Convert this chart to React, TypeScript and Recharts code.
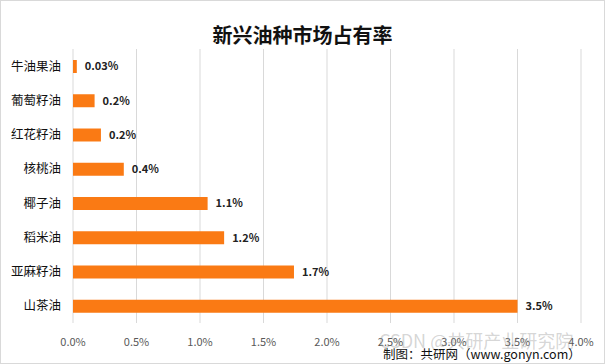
import { BarChart, Bar, XAxis, YAxis, CartesianGrid, LabelList, Cell } from 'recharts';

const categories = ['牛油果油', '葡萄籽油', '红花籽油', '核桃油', '椰子油', '稻米油', '亚麻籽油', '山茶油'];
const shares = [0.03, 0.17, 0.22, 0.4, 1.06, 1.19, 1.74, 3.5];
const labels = ['0.03%', '0.2%', '0.2%', '0.4%', '1.1%', '1.2%', '1.7%', '3.5%'];
const xTicks = [0, 0.5, 1, 1.5, 2, 2.5, 3, 3.5, 4];

const FONT = '"Noto Sans CJK SC", "Noto Sans", sans-serif';
const ORANGE = '#FA7A14';

const rows = categories.map((name, i) => ({ name, v: shares[i], label: labels[i] }));

export default function App() {
  return (
    <div style={{ position: 'absolute', left: 0, top: 0, width: 605, height: 364, background: '#fff', fontFamily: FONT, boxSizing: 'border-box', border: '1px solid #d9d9d9' }}>
      <div style={{ position: 'absolute', left: 0, width: 603, top: 20, textAlign: 'center', fontSize: 20, fontWeight: 700, color: '#111', lineHeight: '28px' }}>
        新兴油种市场占有率
      </div>
      <div style={{ position: 'absolute', left: -1, top: -1 }}>
        <BarChart width={605} height={364} data={rows} layout="vertical" margin={{ top: 49, right: 24, bottom: 0, left: 0 }}>
          <CartesianGrid horizontal={false} stroke="#d9d9d9" />
          <XAxis type="number" domain={[0, 4]} ticks={xTicks} height={41} axisLine={false} tickLine={false} tickMargin={9}
            tick={{ fontSize: 11, fill: '#595959', fontFamily: FONT }} tickFormatter={(v: number) => v.toFixed(1) + '%'} />
          <YAxis type="category" dataKey="name" width={73} axisLine={false} tickLine={false} tickMargin={6}
            tick={{ fontSize: 12.5, fill: '#111', fontFamily: FONT }} />
          <Bar dataKey="v" barSize={13} isAnimationActive={false}>
            {rows.map((r, i) => <Cell key={i} fill={ORANGE} />)}
            <LabelList dataKey="label" position="right" offset={8} fontSize={11} fontWeight={700} fill="#222" fontFamily={FONT} />
          </Bar>
        </BarChart>
      </div>
      <div style={{ position: 'absolute', left: 378, top: 326, fontSize: 18, color: 'rgba(150,150,150,0.4)', whiteSpace: 'nowrap' }}>
        CSDN @共研产业研究院
      </div>
      <div style={{ position: 'absolute', left: 382, top: 343, fontSize: 12.5, color: '#111', whiteSpace: 'nowrap' }}>
        制图：共研网（www.gonyn.com）
      </div>
    </div>
  );
}
